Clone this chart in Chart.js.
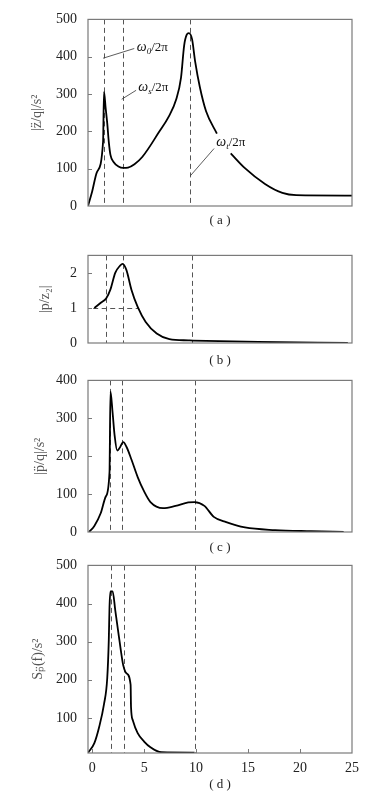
<!DOCTYPE html>
<html><head><meta charset="utf-8">
<script src="https://cdn.jsdelivr.net/npm/chart.js@4/dist/chart.umd.min.js"></script>
<style>
html,body{margin:0;padding:0;background:#fff}
body{position:relative;width:381px;height:801px;overflow:hidden}
canvas{position:absolute;left:0}
</style></head><body>
<canvas id="ca" width="381" height="232" style="top:0px"></canvas>
<canvas id="cb" width="381" height="136" style="top:236px"></canvas>
<canvas id="cc" width="381" height="198" style="top:361px"></canvas>
<canvas id="cd" width="381" height="250" style="top:546px"></canvas>
<script>
// ---------- data ----------
const X_TICKS = [0, 5, 10, 15, 20, 25];
const A_TICKS = [0, 100, 200, 300, 400, 500];
const B_TICKS = [0, 1, 2];
const C_TICKS = [0, 100, 200, 300, 400];
const D_TICKS = [100, 200, 300, 400, 500];

// (a) |z''/q|
const aX = [-0.4, 0.0, 0.46, 1.05, 1.14, 1.30, 1.45, 1.60, 1.76, 2.06, 2.53, 2.99, 3.45, 4.07, 4.84, 6.43, 7.34, 8.09, 8.55, 8.85, 9.10, 9.30, 9.61, 9.91, 10.36, 10.96, 12.0, 12.6, 13.33, 14.67, 16.63, 18.30, 19.63, 25.0];
const aY = [0, 39, 91, 172, 306, 262, 222, 172, 137, 118, 106, 102, 103, 112, 132, 198, 238, 286, 344, 430, 459, 463, 447, 387, 319, 254, 194, null, 141, 102, 59, 35, 29, 28];
// (b) |p/z2|
const bX = [0.21, 0.83, 1.36, 1.76, 2.22, 2.69, 2.94, 3.30, 3.77, 4.38, 5.15, 6.21, 7.43, 9.25, 9.70, 16.0, 24.6];
const bY = [1.0, 1.15, 1.28, 1.53, 2.0, 2.21, 2.26, 2.08, 1.53, 1.03, 0.60, 0.27, 0.11, 0.075, 0.07, 0.03, 0.0];
// (c) |p''/q|
const cX = [-0.3, 0.21, 0.83, 1.30, 1.67, 1.76, 1.97, 2.16, 2.41, 2.62, 2.99, 3.30, 3.77, 4.38, 5.00, 5.61, 6.82, 8.03, 9.25, 9.85, 10.8, 11.7, 12.9, 14.7, 17.6, 21.05, 24.2];
const cY = [0, 16, 50, 93, 158, 371, 314, 255, 215, 221, 237, 225, 192, 145, 107, 79, 63, 69, 78, 79, 69, 40, 26, 12, 5, 2, 0];
// (d) S_p(f)
const dX = [-0.4, 0.21, 0.68, 1.14, 1.45, 1.60, 1.67, 1.76, 1.97, 2.22, 2.53, 2.84, 2.99, 3.30, 3.70, 3.74, 3.91, 4.38, 5.00, 5.61, 6.66, 9.85];
const dY = [8.5, 34, 77, 136, 204, 304, 391, 432, 432, 383, 322, 262, 238, 217, 187, 128, 94, 60, 38, 23, 10, 9];

// dashed reference frequencies per panel (omega0, omegas, omegat over 2pi)
const aLines = [1.14, 2.92, 9.42];
const bLines = [1.36, 2.94, 9.64];
const cLines = [1.76, 2.90, 9.85];
const dLines = [1.79, 3.03, 9.85];
const bUnitLine = {y: 1, from: 0.1, to: 4.5};

// annotations on (a): leader from, leader to, text anchor (data units)
const aNotes = [
  {sub: '0', from: [1.05, 396], to: [4.05, 422], at: [4.29, 428]},
  {sub: 's', from: [2.84, 286], to: [4.23, 310], at: [4.44, 319]},
  {sub: 't', from: [9.45, 81],  to: [11.73, 154], at: [11.94, 172]}
];

// ---------- drawing ----------
const FONT = "'Liberation Serif','Times New Roman',serif";
const pts = (xs, ys) => xs.map((x, i) => ({x: x, y: ys[i]}));

const guides = {
  id: 'guides',
  beforeDatasetsDraw(chart, args, o) {
    const {ctx, chartArea: a, scales: {x, y}} = chart;
    ctx.save();
    ctx.beginPath(); ctx.rect(a.left, a.top, a.right - a.left, a.bottom - a.top); ctx.clip();
    ctx.strokeStyle = '#555'; ctx.lineWidth = 1; ctx.setLineDash([5, 3.5]);
    (o.vlines || []).forEach(v => {
      const px = Math.round(x.getPixelForValue(v)) + 0.5;
      ctx.beginPath(); ctx.moveTo(px, a.top); ctx.lineTo(px, a.bottom); ctx.stroke();
    });
    (o.hlines || []).forEach(h => {
      const py = Math.round(y.getPixelForValue(h.y)) + 0.5;
      ctx.beginPath(); ctx.moveTo(x.getPixelForValue(h.from), py); ctx.lineTo(x.getPixelForValue(h.to), py); ctx.stroke();
    });
    ctx.restore();
  },
  afterDatasetsDraw(chart, args, o) {
    const {ctx, chartArea: a, scales: {x, y}} = chart;
    ctx.save();
    ctx.setLineDash([]);
    (o.notes || []).forEach(n => {
      ctx.strokeStyle = '#333'; ctx.lineWidth = 0.8;
      ctx.beginPath();
      ctx.moveTo(x.getPixelForValue(n.from[0]), y.getPixelForValue(n.from[1]));
      ctx.lineTo(x.getPixelForValue(n.to[0]), y.getPixelForValue(n.to[1]));
      ctx.stroke();
      let tx = x.getPixelForValue(n.at[0]);
      const base = y.getPixelForValue(n.at[1]) + 4.5;
      ctx.fillStyle = '#111'; ctx.textBaseline = 'alphabetic'; ctx.textAlign = 'left';
      ctx.font = 'italic 14px ' + FONT; ctx.fillText('ω', tx, base); tx += ctx.measureText('ω').width;
      ctx.font = 'italic 9px ' + FONT; ctx.fillText(n.sub, tx, base + 3); tx += ctx.measureText(n.sub).width;
      ctx.font = '13px ' + FONT; ctx.fillText('/2π', tx, base);
    });
    ctx.strokeStyle = '#7a7a7a'; ctx.lineWidth = 1.2;
    ctx.strokeRect(a.left, a.top, a.right - a.left, a.bottom - a.top);
    ctx.lineWidth = 1;
    y.ticks.forEach(t => {
      const py = Math.round(y.getPixelForValue(t.value)) + 0.5;
      if (py < a.top + 2 || py > a.bottom - 2) return;
      ctx.beginPath(); ctx.moveTo(a.left, py); ctx.lineTo(a.left + 4, py); ctx.stroke();
    });
    if (o.xInner) x.ticks.forEach(t => {
      const px = Math.round(x.getPixelForValue(t.value)) + 0.5;
      if (px < a.left + 2 || px > a.right - 2) return;
      ctx.beginPath(); ctx.moveTo(px, a.bottom); ctx.lineTo(px, a.bottom - 4); ctx.stroke();
    });
    ctx.restore();
  }
};

function makeChart(id, c) {
  return new Chart(document.getElementById(id), {
    type: 'line',
    data: {datasets: [{
      data: pts(c.xs, c.ys), borderColor: '#000', borderWidth: 1.8, pointRadius: 0,
      fill: false, tension: 0.4, cubicInterpolationMode: 'monotone', spanGaps: false
    }]},
    options: {
      responsive: false, animation: false, events: [],
      layout: {padding: {top: 16, left: 0, right: 29, bottom: 0}},
      plugins: {legend: {display: false}, tooltip: {enabled: false}, guides: c.guides},
      scales: {
        x: {
          type: 'linear', min: -0.4, max: 25,
          afterBuildTicks: s => { s.ticks = X_TICKS.map(v => ({value: v})); },
          afterFit: s => { s.height = c.xAxisH; },
          grid: {display: false, drawTicks: false}, border: {display: false},
          ticks: {display: c.showX, padding: 7, color: '#222', font: {family: FONT, size: 14}, maxRotation: 0, autoSkip: false},
          title: {display: true, text: c.caption, color: '#222', font: {family: FONT, size: 13}, padding: {top: 0, bottom: 4}}
        },
        y: {
          type: 'linear', min: c.yMin, max: c.yMax,
          afterBuildTicks: s => { s.ticks = c.yTicks.map(v => ({value: v})); },
          afterFit: s => { s.width = 88; },
          grid: {display: false, drawTicks: false}, border: {display: false},
          ticks: {padding: 11, color: '#222', font: {family: FONT, size: 14}},
          title: {display: true, text: c.yTitle, color: '#555', font: {family: FONT, size: 14}, padding: {top: c.titleX - 8.4, bottom: 0}}
        }
      }
    },
    plugins: [guides]
  });
}

makeChart('ca', {xs: aX, ys: aY, yMin: 0, yMax: 500, yTicks: A_TICKS, yTitle: '|z\u0308/q|/s\u00b2', titleX: 37,
  caption: '( a )', showX: false, xAxisH: 26, guides: {vlines: aLines, notes: aNotes}});
makeChart('cb', {xs: bX, ys: bY, yMin: 0, yMax: 2.5, yTicks: B_TICKS, yTitle: '|p/z\u2082|', titleX: 45,
  caption: '( b )', showX: false, xAxisH: 29, guides: {vlines: bLines, hlines: [bUnitLine]}});
makeChart('cc', {xs: cX, ys: cY, yMin: 0, yMax: 400, yTicks: C_TICKS, yTitle: '|p\u0308/q|/s\u00b2', titleX: 40,
  caption: '( c )', showX: false, xAxisH: 27, guides: {vlines: cLines}});
makeChart('cd', {xs: dX, ys: dY, yMin: 8, yMax: 500, yTicks: D_TICKS, yTitle: 'S\u209a\u0308(f)/s\u00b2', titleX: 38,
  caption: '( d )', showX: true, xAxisH: 43, guides: {vlines: dLines, xInner: true}});
</script>
</body></html>
